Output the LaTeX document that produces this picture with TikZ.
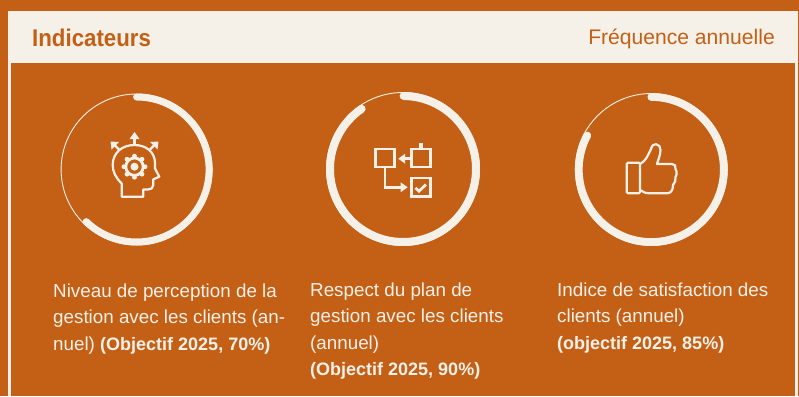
\documentclass[tikz,border=0pt]{standalone}
\usepackage{fontspec}
\setmainfont{Liberation Sans}
\newfontfamily\hdfont[FakeStretch=0.92]{Liberation Sans}
\definecolor{rust}{HTML}{C46016}
\definecolor{cream}{HTML}{F5F0E8}
\newcommand{\bt}[1]{{\fontsize{18}{26.5}\selectfont\bfseries #1}}
\tikzset{
  thinring/.style={draw=cream,line width=0.9pt},
  thickring/.style={draw=cream,line cap=round},
  icon/.style={draw=cream,line width=2.2pt,line join=round},
  flow/.style={draw=cream,line width=2.8pt,line join=miter},
  iconfill/.style={fill=cream,draw=none},
  para/.style={anchor=north west,inner sep=0pt,align=left,text=cream,font=\fontsize{18.8}{26.5}\selectfont},
  hd/.style={inner sep=0pt,text=rust}
}
\begin{document}
\begin{tikzpicture}[x=1pt,y=-1pt]
\useasboundingbox (0,0) rectangle (799,396);
\fill[rust] (0,0) rectangle (799,396);
\fill[cream] (8,11) rectangle (798,63);
\fill[cream] (8,63) rectangle (11,396);
\fill[cream] (795,63) rectangle (798,396);
\node[hd,anchor=base west,font=\hdfont\bfseries\fontsize{24.2}{26}\selectfont] (title) at (32,46) {Indicateurs};
\node[hd,anchor=base east,font=\fontsize{21.1}{24}\selectfont] (freq) at (775,44.5) {Fréquence annuelle};
% ring 1
\coordinate (r1) at (136.6,169.5);
\draw[thinring] (r1) circle[radius=75.5pt];
\draw[thickring,line width=7pt] (r1) ++(90:72.5pt) arc[start angle=90,delta angle=-224,radius=72.5pt];
% ring 2
\coordinate (r2) at (403,169);
\draw[thinring] (r2) circle[radius=76.5pt];
\draw[thickring,line width=8pt] (r2) ++(89.5:73pt) arc[start angle=89.5,delta angle=-325,radius=73pt];
% ring 3
\coordinate (r3) at (651.3,169.5);
\draw[thinring] (r3) circle[radius=76pt];
\draw[thickring,line width=7.7pt] (r3) ++(90:72.5pt) arc[start angle=90,delta angle=-298,radius=72.5pt];
% head icon
\draw[icon] (121.7,196.7) -- (121.7,183.5) .. controls (116,178) and (112.7,172) .. (112.7,165)
  .. controls (112.7,153) and (122,145) .. (134.3,145)
  .. controls (146,145) and (155,152) .. (155,163) -- (155,168.5) -- (159.3,176.7) -- (153.3,179.3)
  -- (153.3,185) .. controls (153.3,188) and (151,189.5) .. (148,189.5) -- (143.3,189.5) -- (143.3,196.7) -- cycle;
\draw[icon] (134.5,145) -- (134.5,137);
\draw[icon] (119.5,150) -- (114,144.5);
\draw[icon] (149.5,150) -- (155,144.5);
\fill[iconfill] (134.5,132) -- (129.5,139) -- (139.5,139) -- cycle;
\fill[iconfill] (110.5,141.5) -- (119,142) -- (111.5,149.5) -- cycle;
\fill[iconfill] (158.5,141.5) -- (150,142) -- (157.5,149.5) -- cycle;
\draw[cream,line width=2.8pt] (134.5,166.7) circle[radius=8.7pt];
\fill[cream] (134.5,166.7) circle[radius=4pt];
\foreach \a in {0,45,...,315}
  \fill[cream] (134.5,166.7) ++(\a:10.6pt) circle[radius=2.4pt];
% flow icon
\draw[flow] (375.3,148.9) rectangle (394.7,167);
\draw[flow] (411.3,148.9) rectangle (430.4,167);
\draw[flow] (411.3,178) rectangle (430.4,196.4);
\draw[flow,line width=3.4pt] (421,148.9) -- (421,142.7);
\draw[flow] (411.3,158.7) -- (403,158.7);
\fill[iconfill] (398.3,158.7) -- (405,153.8) -- (405,163.6) -- cycle;
\draw[flow] (385,167) -- (385,187.3) -- (403,187.3);
\fill[iconfill] (407.7,187.3) -- (400.7,182.4) -- (400.7,192.2) -- cycle;
\draw[cream,line width=2.8pt] (415.5,187.8) -- (419,191.2) -- (425.8,184.5);
% thumb icon
\draw[icon,rounded corners=1.2pt] (626.7,162.7) rectangle (640,193.3);
\draw[icon] (640,164) .. controls (646,161) and (648,155) .. (651,149)
  .. controls (652,145) and (654,144.2) .. (656,144.2)
  .. controls (659,144.2) and (660.5,147) .. (660.5,150)
  .. controls (660.5,155) and (658,160) .. (657,164)
  -- (672,164) .. controls (675,164) and (676,166) .. (675.5,169)
  .. controls (677,171) and (677,175) .. (675.5,177)
  .. controls (676,180) and (675,183) .. (673,185)
  .. controls (673,190) and (671,193.3) .. (667,193.3)
  -- (650,193.3) .. controls (646,193.3) and (643,192.3) .. (640,190);
% texts
\node[para] (t1) at (53,283.5) {Niveau de perception de la\\gestion avec les clients (an-\\nuel) \bt{(Objectif 2025, 70\%)}};
\node[para] (t2) at (310,282.5) {Respect du plan de\\gestion avec les clients\\(annuel)\\\bt{(Objectif 2025, 90\%)}};
\node[para] (t3) at (557,282.5) {Indice de satisfaction des\\clients (annuel)\\\bt{(objectif 2025, 85\%)}};
\end{tikzpicture}
\end{document}
